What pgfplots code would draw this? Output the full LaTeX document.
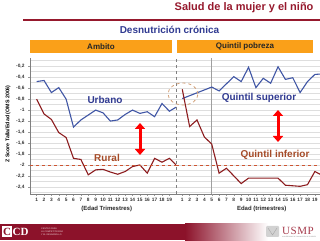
\documentclass[border=0pt]{standalone}
\usepackage{fontspec}
\setmainfont{Liberation Sans}
\newfontfamily\serifusmp{Liberation Serif}
\usepackage{pgfplots}
\pgfplotsset{compat=1.18}
\usetikzlibrary{arrows.meta}
\definecolor{urb}{RGB}{64,86,165}
\definecolor{rur}{RGB}{140,28,30}
\definecolor{lblblue}{RGB}{48,58,145}
\definecolor{lblbrown}{RGB}{165,75,40}
\definecolor{hdr}{RGB}{150,25,45}
\definecolor{orng}{RGB}{250,160,25}
\definecolor{gridc}{RGB}{222,222,222}
\definecolor{refline}{RGB}{205,85,50}
\definecolor{ellc}{RGB}{210,160,120}
\definecolor{banner}{RGB}{140,18,42}
\pgfplotsset{base/.style={
  scale only axis, height=136pt, ymin=-2.53, ymax=-0.05,
  ytick={-2.4,-2.2,-2,-1.8,-1.6,-1.4,-1.2,-1,-0.8,-0.6,-0.4,-0.2},
  minor ytick={-2.5,-2.3,-2.1,-1.9,-1.7,-1.5,-1.3,-1.1,-0.9,-0.7,-0.5,-0.3,-0.1},
  ymajorgrids, yminorgrids,
  major grid style={gridc, line width=0.5pt},
  minor grid style={gridc, line width=0.5pt},
  tick align=outside, axis x line*=bottom, axis y line*=left,
  x axis line style={gray}, tick style={gray!80, line width=0.4pt},
  major tick length=2pt, minor tick length=0pt,
  ticklabel style={font=\fontsize{4.8}{5}\selectfont\bfseries, text=black!80},
  xticklabel style={yshift=1pt},
  /pgf/number format/.cd, use comma, assume math mode=true,
}}
\begin{document}
\begin{tikzpicture}[x=1pt,y=1pt]
\path[use as bounding box] (0,0) rectangle (320,240);
% header
\node[anchor=east, text=hdr, font=\fontsize{11}{12}\selectfont\bfseries] at (317,232) {Salud de la mujer y el niño};
\draw[hdr, line width=1.2pt] (23,220) -- (320,220);
\node[text=lblblue, font=\fontsize{10}{11}\selectfont\bfseries] at (169.5,210) {Desnutrición crónica};
\fill[orng] (30,187) rectangle (172,200);
\fill[orng] (177,187) rectangle (313,200);
\node[font=\fontsize{8}{9}\selectfont\bfseries, text=black!85] at (101,193.5) {Ambito};
\node[font=\fontsize{8}{9}\selectfont\bfseries, text=black!85] at (245,193.5) {Quintil pobreza};
% panel A
\begin{axis}[base, at={(30pt,46pt)}, anchor=south west, width=146pt,
  xmin=0.1, xmax=19.9, xtick={1,2,3,4,5,6,7,8,9,10,11,12,13,14,15,16,17,18,19,20},
  xticklabels={1,2,3,4,5,6,7,8,9,10,11,12,13,14,15,16,17,18,19,2},
  y axis line style={gray}]
\addplot[urb, line width=1.1pt] coordinates {
(1,-0.48) (2,-0.46) (3,-0.68) (4,-0.59) (5,-0.80) (6,-1.31) (7,-1.18) (8,-1.09) (9,-1.00) (10,-1.05)
(11,-1.20) (12,-1.18) (13,-1.08) (14,-1.00) (15,-1.06) (16,-1.03) (17,-1.12) (18,-0.88) (19,-1.02) (20,-0.94)};
\addplot[rur, line width=1.1pt] coordinates {
(1,-0.80) (2,-1.07) (3,-1.17) (4,-1.41) (5,-1.50) (6,-1.88) (7,-1.90) (8,-2.18) (9,-2.09) (10,-2.08)
(11,-2.13) (12,-2.17) (13,-2.12) (14,-2.03) (15,-2.00) (16,-2.15) (17,-1.88) (18,-1.95) (19,-1.88) (20,-2.01)};
\draw[refline, dashed, line width=0.8pt] (axis cs:0.1,-2) -- (axis cs:19.9,-2);
\end{axis}
% panel B
\begin{axis}[base, at={(176pt,46pt)}, anchor=south west, width=144pt,
  xmin=0.15, xmax=19.7, xtick={1,2,3,4,5,6,7,8,9,10,11,12,13,14,15,16,17,18,19},
  yticklabels={}, ytick style={draw=none},
  y axis line style={gray, dashed},
  extra x ticks={5}, extra x tick labels={},
  extra x tick style={grid=major, major grid style={gray!75, line width=0.5pt}}]
\addplot[urb, line width=1.1pt] coordinates {
(1,-0.79) (5,-0.58) (6,-0.65) (7,-0.52) (8,-0.39) (9,-0.48) (10,-0.22) (11,-0.59) (12,-0.42) (13,-0.51)
(14,-0.21) (15,-0.44) (16,-0.41) (17,-0.68) (18,-0.48) (19,-0.35) (20,-0.34)};
\addplot[rur, line width=1.1pt] coordinates {
(1,-0.62) (2,-1.30) (3,-1.18) (4,-1.49) (5,-1.62) (6,-2.15) (7,-2.06) (8,-2.20) (9,-2.34) (10,-2.24)
(11,-2.24) (12,-2.24) (13,-2.24) (14,-2.24) (15,-2.37) (16,-2.38) (17,-2.39) (18,-2.36) (19,-2.12) (20,-2.19)};
\draw[refline, dashed, line width=0.8pt] (axis cs:0.15,-2) -- (axis cs:19.7,-2);
\end{axis}
% axis labels
\node[rotate=90, font=\fontsize{5.3}{6}\selectfont\bfseries] at (8,116) {Z Score Talla/Edad (OMS 2006)};
\node[font=\fontsize{6}{7}\selectfont\bfseries, text=black!85] at (106.7,31) {(Edad Trimestres)};
\node[font=\fontsize{6}{7}\selectfont\bfseries, text=black!85] at (261.7,31) {Edad (trimestres)};
% annotations
\node[text=lblblue, font=\fontsize{10}{11}\selectfont\bfseries] at (105,140) {Urbano};
\node[text=lblbrown, font=\fontsize{10}{11}\selectfont\bfseries] at (107,82.5) {Rural};
\node[text=lblblue, font=\fontsize{10}{11}\selectfont\bfseries] at (259,142.5) {Quintil superior};
\node[text=lblbrown, font=\fontsize{10}{11}\selectfont\bfseries] at (275,85) {Quintil inferior};
\draw[red, line width=3pt, {Triangle[width=10pt,length=6pt]}-{Triangle[width=10pt,length=6pt]}] (140,117) -- (140,85);
\draw[red, line width=3pt, {Triangle[width=10pt,length=6pt]}-{Triangle[width=10pt,length=6pt]}] (278,130) -- (278,98);
\draw[ellc, dashed, line width=0.8pt] (183,146) ellipse (15 and 11);
% footer
\fill[banner] (0,0) rectangle (185,16);
\shade[left color=banner, right color=white] (185,0) rectangle (268,16);
\fill[white] (2,3) rectangle (12,14);
\node[text=banner, font=\serifusmp\fontsize{11}{12}\selectfont\bfseries] at (7.2,8.3) {C};
\node[anchor=west, text=white, font=\serifusmp\fontsize{11}{12}\selectfont\bfseries, inner sep=0pt] at (12.5,8.3) {CD};
\node[anchor=west, text=white!85!banner, font=\fontsize{2.2}{2.6}\selectfont, align=left, inner sep=0pt] at (41,8.3) {CENTRO PARA\\LA COMPETITIVIDAD\\Y EL DESARROLLO};
\fill[gray!35, rounded corners=1pt] (266,3) rectangle (279,14);
\draw[gray!70, line width=0.4pt] (268,12) -- (272.5,5) -- (277,12);
\node[anchor=west, text=hdr!85, font=\serifusmp\fontsize{11}{12}\selectfont, inner sep=0pt] at (282,9.5) {U\kern0.5pt S\kern0.5pt M\kern0.5pt P};
\node[anchor=west, text=gray, font=\fontsize{1.6}{2}\selectfont, inner sep=0pt] at (282,3) {UNIVERSIDAD DE SAN MARTÍN DE PORRES};
\end{tikzpicture}
\end{document}
